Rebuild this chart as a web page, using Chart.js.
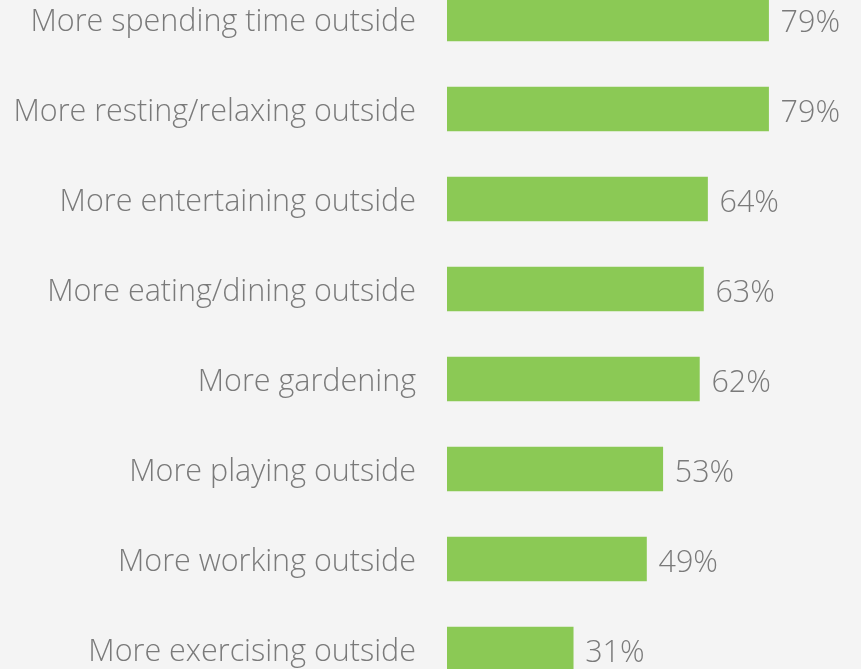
<!DOCTYPE html>
<html>
<head>
<meta charset="utf-8">
<script src="https://cdn.jsdelivr.net/npm/chart.js@4"></script>
<style>
  html, body { margin:0; padding:0; background:#f4f4f4; overflow:hidden; }
  #wrap { position:relative; width:861px; height:669px; overflow:hidden; }
  #box { position:absolute; left:0; top:-26px; width:861px; height:720px; }
</style>
</head>
<body>
<div id="wrap"><div id="box"><canvas id="chart"></canvas></div></div>
<script>
const categories = [
  'More spending time outside',
  'More resting/relaxing outside',
  'More entertaining outside',
  'More eating/dining outside',
  'More gardening',
  'More playing outside',
  'More working outside',
  'More exercising outside'
];
const shares = [79, 79, 64, 63, 62, 53, 49, 31];

const textColor = '#7a7a7a';
const font = { family: 'Open Sans', size: 30.5, weight: '300' };

// value labels at the end of each bar
const valueLabels = {
  id: 'valueLabels',
  afterDatasetsDraw(chart) {
    const { ctx } = chart;
    const meta = chart.getDatasetMeta(0);
    ctx.save();
    ctx.fillStyle = textColor;
    ctx.font = `${font.weight} ${font.size}px ${font.family}`;
    ctx.textBaseline = 'middle';
    ctx.textAlign = 'left';
    meta.data.forEach((bar, i) => {
      ctx.fillText(shares[i] + '%', bar.x + 12, bar.y + 4);
    });
    ctx.restore();
  }
};

new Chart(document.getElementById('chart'), {
  type: 'bar',
  data: {
    labels: categories,
    datasets: [{
      data: shares,
      backgroundColor: '#8bc955',
      borderWidth: 0,
      barThickness: 44
    }]
  },
  options: {
    indexAxis: 'y',
    responsive: true,
    maintainAspectRatio: false,
    animation: false,
    layout: { padding: 0 },
    plugins: { legend: { display: false }, tooltip: { enabled: false } },
    scales: {
      x: { display: false, min: 0, max: 101.7 },
      y: {
        grid: { display: false, drawTicks: false },
        border: { display: false },
        ticks: { color: textColor, font: font, padding: 31, labelOffset: 3 },
        afterFit(scale) {
          scale.width = 447;
          scale.paddingTop = 0;
          scale.paddingBottom = 0;
        }
      }
    }
  },
  plugins: [valueLabels]
});
</script>
</body>
</html>
